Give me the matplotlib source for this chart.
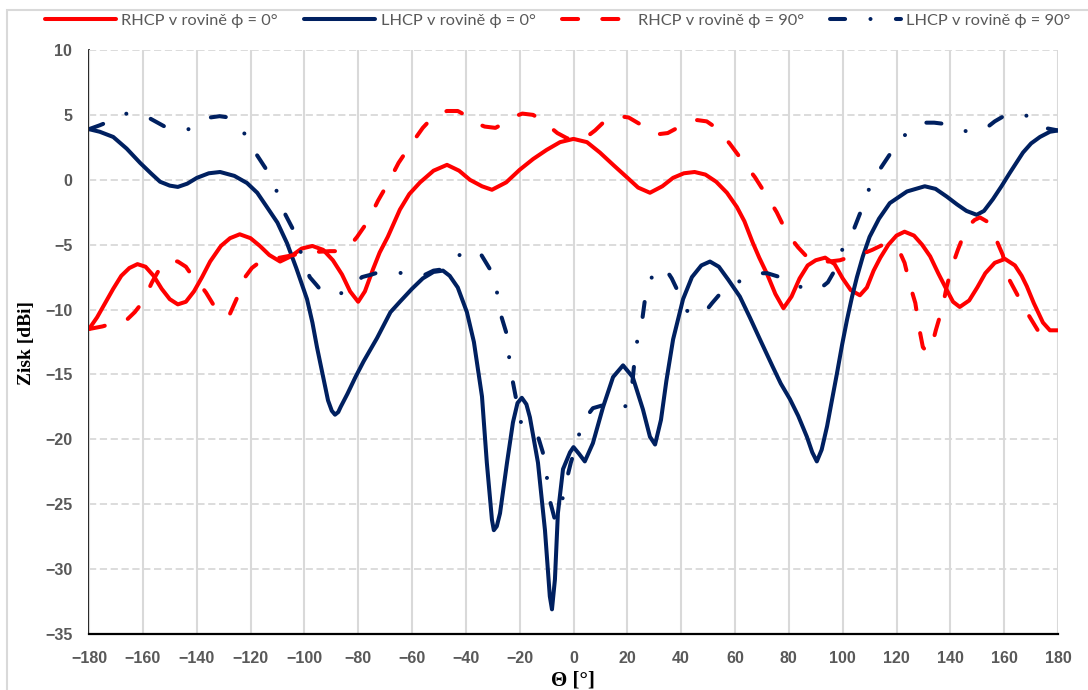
import matplotlib
matplotlib.use("Agg")
import matplotlib.pyplot as plt
from matplotlib.patches import Rectangle

# RHCP, phi = 0 (red solid)
rhcp0_x = [-180, -177, -174, -171, -168, -165, -162, -159, -156, -153, -150, -147, -144, -141, -138, -135,
           -131, -127.6, -124, -120, -116.5, -113, -109, -105, -101, -97, -93, -89.4, -86, -83, -80, -77.5,
           -74.5, -72, -69, -64.5, -61, -57, -52, -47, -42.5, -38.5, -34, -30.3, -25, -20, -15, -10, -5, 0,
           5, 9.8, 15, 19.8, 24, 28.4, 33, 37, 41, 45, 49, 53, 57, 60.7, 63.5, 66.5, 69, 72, 75, 78, 81, 84,
           87, 90, 93.5, 97, 100, 103, 106.4, 109, 111.5, 114, 117, 120, 123, 126.5, 129.5, 132.5, 135.5,
           138.7, 141, 143.5, 147, 150, 153, 156.5, 160.3, 164, 166.5, 168.4, 171, 174.4, 177, 180]
rhcp0_y = [-11.5, -10.6, -9.5, -8.4, -7.4, -6.8, -6.5, -6.7, -7.4, -8.4, -9.2, -9.6, -9.4, -8.6, -7.5, -6.3,
           -5.1, -4.5, -4.2, -4.5, -5.1, -5.8, -6.3, -5.9, -5.3, -5.1, -5.4, -6.2, -7.3, -8.6, -9.4, -8.6,
           -6.9, -5.6, -4.4, -2.3, -1.1, -0.2, 0.7, 1.15, 0.7, 0.0, -0.5, -0.77, -0.2, 0.77, 1.6, 2.3, 2.9, 3.15,
           2.9, 2.1, 1.1, 0.2, -0.6, -1.0, -0.5, 0.15, 0.5, 0.6, 0.4, -0.15, -1.0, -2.1, -3.2, -4.8, -6.0, -7.3, -8.8, -9.9, -9.0, -7.6,
           -6.6, -6.2, -6.0, -6.5, -7.6, -8.5, -8.9, -8.3, -7.0, -6.0, -5.0, -4.3, -4.0, -4.3, -5.0, -5.9, -7.2,
           -8.5, -9.4, -9.8, -9.3, -8.3, -7.2, -6.4, -6.1, -6.6, -7.4, -8.2, -9.5, -11.0, -11.6, -11.6]

# LHCP, phi = 0 (navy solid)
lhcp0_x = [-180, -176, -171, -166, -161, -157, -153.6, -150, -147, -143.5, -139.9, -135.5, -131.3, -126,
           -121.3, -117.5, -113.9, -110, -106.4, -103, -99, -97, -95.3, -93, -91.2, -89.8, -88.6, -87.4, -86.5, -84, -81,
           -78, -73, -68, -64.5, -60, -56, -52, -48.5, -46, -43, -39.6, -37, -34, -32.2, -30.3, -29.6, -28.5,
           -27.3, -24.7, -22.5, -20.8, -19.2, -17.5, -16.2, -13.2, -10.6, -8.8, -8, -6.9, -5.8, -3.9, -1.3, 0,
           2, 4.2, 7.2, 11, 14.7, 18.4, 22, 25.8, 28.4, 30.3, 32.5, 34.5, 37, 40.7, 44, 47.5, 50.7, 54, 57.5,
           61.8, 65.5, 69.5, 74, 77, 80.4, 83.5, 86.7, 88.7, 90.4, 92.2, 94.2, 96, 97.9, 99.8, 101.6, 103.5,
           105.3, 107.5, 110, 113.5, 117.5, 123.9, 130.5, 134.5, 138.7, 142.5, 146, 149.8, 152.5, 155.8, 159,
           162, 167, 170, 173.3, 177, 180]
lhcp0_y = [3.9, 3.7, 3.3, 2.4, 1.3, 0.5, -0.15, -0.45, -0.55, -0.3, 0.15, 0.5, 0.6, 0.3,
           -0.25, -1.0, -2.1, -3.3, -4.9, -6.8, -9.2, -11.0, -12.9, -15.2, -17.0, -17.8, -18.1, -17.9, -17.5, -16.5, -15.2,
           -14.0, -12.2, -10.2, -9.4, -8.4, -7.6, -7.1, -7.0, -7.4, -8.3, -10.2, -12.5, -16.7, -21.8, -26.2, -27.0, -26.7,
           -25.7, -21.8, -18.7, -17.2, -16.8, -17.3, -18.3, -21.8, -27.0, -32.1, -33.1, -30.8, -25.7, -22.3, -21.0, -20.6,
           -21.1, -21.7, -20.3, -17.5, -15.2, -14.3, -15.2, -17.7, -19.8, -20.4, -18.5, -15.5, -12.3, -9.2, -7.5, -6.6, -6.3, -6.7, -7.7,
           -9.0, -10.6, -12.4, -14.4, -15.7, -16.9, -18.2, -19.8, -21.0, -21.7, -20.8, -19.0, -17.0, -14.9, -12.7, -10.8, -9.0,
           -7.5, -5.9, -4.4, -3.0, -1.8, -0.9, -0.5, -0.7, -1.3, -1.9, -2.4, -2.7, -2.4, -1.5, -0.5,
           0.5, 2.1, 2.8, 3.3, 3.7, 3.8]

# RHCP, phi = 90 (red dashed)
rhcp90_x = [-180, -175, -170, -166, -163, -160, -156.6, -153.6, -150, -147, -144, -142, -139, -136.5, -133,
            -130.5, -128, -125, -122, -119.5, -117, -113, -109, -104, -100, -95, -90.5, -86.8, -83.5, -80.4,
            -76.4, -72.6, -69, -65, -60.8, -56, -51.5, -47, -43, -39.5, -36.6, -33, -29, -25.5, -22.9, -19,
            -15, -12, -9.5, -6, -2.4, 1, 4.2, 8, 11, 14, 17, 20.5, 25.4, 28, 31, 35, 39.5, 43, 46, 49.5, 53,
            58, 63, 67.4, 72, 75.5, 79.3, 83.4, 87, 91, 95, 99, 102, 105, 111, 115, 119.4, 121.5, 123, 125,
            127, 128.3, 129.8, 131.5, 133, 134.6, 137, 138.7, 140.6, 142.8, 146, 149, 151, 153.5, 156.6, 159.5,
            161.4, 165, 168.4, 172.5, 176, 180]
rhcp90_y = [-11.5, -11.3, -11.0, -10.8, -10.2, -9.4, -7.9, -6.8, -6.2, -6.3, -6.7, -7.3, -8.0, -8.7, -9.9,
            -10.4, -10.5, -9.1, -7.5, -6.8, -6.4, -6.1, -6.0, -5.8, -5.6, -5.55, -5.5, -5.5, -5.2, -4.4,
            -3.2, -1.6, -0.3, 1.3, 2.6, 4.0, 5.0, 5.3, 5.3, 4.9, 4.4, 4.1, 4.0, 4.4, 4.8, 5.1,
            5.0, 4.6, 4.2, 3.6, 3.2, 3.1, 3.2, 3.8, 4.4, 4.8, 4.9, 4.8, 4.2, 3.8, 3.5, 3.6, 4.1, 4.5, 4.6, 4.5, 4.0,
            2.8, 1.4, 0.2, -1.3, -2.5, -4.1, -5.2, -6.0, -6.3, -6.3, -6.2, -6.0, -5.9, -5.4, -5.0, -5.2, -5.7, -6.4, -8.1,
            -9.5, -11.3, -12.9, -13.3, -12.9, -11.6, -9.9, -8.2, -6.7, -5.4, -3.7, -3.1, -2.9, -3.2, -4.4, -5.8,
            -7.5, -8.9, -10.2, -11.6, -11.7, -11.6]

# LHCP, phi = 90 (navy dash-dot)
lhcp90_x = [-180, -176, -172.5, -169, -166, -162, -158, -154.5, -151, -147, -143, -139, -135, -131.5, -128,
            -125, -122, -119.5, -117.6, -113.5, -110, -107, -103.5, -101, -98, -95.5, -93.5, -89.5, -85.6,
            -82, -78.6, -75, -72, -67.5, -63.4, -60, -56, -52, -48.5, -45, -41.8, -38, -34.8, -31, -28.4,
            -26.7, -24.8, -23.9, -22.5, -21.4, -19.5, -16.5, -13.6, -11.4, -9.9, -8.8, -6.9, -5, -3, -1, 1,
            3.2, 7.2, 10.5, 14.3, 17, 19, 21.7, 22.5, 23.6, 25.4, 26.5, 29.1, 31.5, 34, 36.5, 38.8, 42.5, 45.5,
            48.8, 51.5, 54.4, 57.5, 61, 64.5, 68, 72, 76.7, 81, 85, 88, 91.5, 94.5, 97, 100, 103.8, 107, 110,
            113.8, 118.3, 121, 123.9, 127, 129.8, 134, 138, 142, 146.5, 150, 152.8, 156.5, 160.6, 165, 169, 172,
            175, 180]
lhcp90_y = [3.9, 4.2, 4.5, 4.9, 5.1, 5.1, 4.8, 4.4, 4.0, 3.8, 3.9, 4.4, 4.8, 4.9, 4.8,
            4.2, 3.5, 2.7, 1.9, 0.6, -1.0, -2.7, -4.1, -5.8, -7.5, -8.1, -8.6, -8.9, -8.7,
            -8.2, -7.5, -7.3, -7.1, -7.1, -7.2, -7.4, -7.4, -7.0, -6.9, -6.3, -5.7, -5.4, -5.6, -6.9, -8.7,
            -10.6, -11.9, -13.7, -15.6, -16.8, -18.7, -19.0, -19.5, -21.0, -22.9, -24.7, -26.2, -25.5, -23.5, -21.8, -20.5,
            -18.7, -17.6, -17.4, -17.6, -17.8, -17.6, -16.0, -14.3, -12.5, -11.0, -9.3, -7.5, -6.9, -6.8, -7.6, -8.6, -10.2, -10.4,
            -10.2, -9.5, -8.8, -8.3, -7.9, -7.5, -7.2, -7.2, -7.5, -8.0, -8.3, -8.5, -8.4, -7.9, -7.0, -5.3, -4.0, -2.3, -0.6,
            0.8, 2.2, 3.0, 3.6, 4.1, 4.4, 4.4, 4.3, 4.0, 3.7, 3.8, 3.9, 4.5, 5.0, 5.1, 4.9, 4.5,
            4.0, 3.8]

labels = ['RHCP v rovině ϕ = 0°', 'LHCP v rovině ϕ = 0°',
          'RHCP v rovině ϕ = 90°', 'LHCP v rovině ϕ = 90°']
x_ticks = list(range(-180, 181, 20))
y_ticks = list(range(-35, 11, 5))

RED = '#FF0000'
NAVY = '#002060'
GRAY = '#595959'
GRID = '#D9D9D9'

fig = plt.figure(figsize=(10.88, 6.9), dpi=100)
ax = fig.add_axes([89 / 1088, 1 - 634 / 690, 969 / 1088, 584 / 690])

lw = 2.9
common = dict(lw=lw, solid_capstyle='round', dash_capstyle='round', solid_joinstyle='round',
              dash_joinstyle='round')
ax.plot(rhcp0_x, rhcp0_y, color=RED, label=labels[0], **common)
ax.plot(lhcp0_x, lhcp0_y, color=NAVY, label=labels[1], **common)
ax.plot(rhcp90_x, rhcp90_y, color=RED, label=labels[2], linestyle=(0, (4, 6)), **common)
ax.plot(lhcp90_x, lhcp90_y, color=NAVY, label=labels[3], linestyle=(0, (3.75, 6.3, 0.01, 6.3)), **common)

ax.set_xlim(-180, 180)
ax.set_ylim(-35, 10)
ax.set_xticks(x_ticks)
ax.set_yticks(y_ticks)
ax.set_axisbelow(True)
ax.xaxis.grid(True, color=GRID, lw=1.5, linestyle='-')
ax.yaxis.grid(True, color=GRID, lw=1.3, linestyle=(0, (4, 2)))

for s in ['top', 'right']:
    ax.spines[s].set_visible(False)
ax.spines['left'].set_linewidth(1.2)
ax.spines['bottom'].set_linewidth(1.6)
ax.spines['left'].set_zorder(0.5)

ax.tick_params(length=0)
ax.tick_params(axis='y', pad=12)
ax.tick_params(axis='x', pad=12)
for t in ax.get_yticklabels():
    t.set_fontfamily(['Liberation Sans', 'DejaVu Sans'])
    t.set_fontweight('bold')
    t.set_fontsize(11.5)
    t.set_color(GRAY)
for t in ax.get_xticklabels():
    t.set_fontfamily(['Liberation Sans Narrow', 'Liberation Sans'])
    t.set_fontweight('bold')
    t.set_fontsize(11.5)
    t.set_color(GRAY)

fig.text(27 / 1088, 1 - 343 / 690, 'Zisk [dBi]', rotation=90, ha='center', va='center',
         family='Liberation Serif', fontweight='bold', fontsize=14)
fig.text(573 / 1088, 1 - 681 / 690, 'Θ [°]', ha='center', va='center',
         family='Liberation Serif', fontweight='bold', fontsize=15)

fig.legend(loc='center', bbox_to_anchor=(558 / 1088, 1 - 21 / 690), ncol=4, frameon=False,
           prop={'family': ['Lato', 'DejaVu Sans'], 'size': 11.8},
           labelcolor=GRAY, handlelength=4.3, handletextpad=0.35, columnspacing=1.6)

fig.patches.append(Rectangle((7 / 1088, -0.5), 2, 1.5 - 10 / 690, transform=fig.transFigure,
                             fill=False, edgecolor=GRID, lw=1.5))

fig.savefig('out.png', dpi=100)
